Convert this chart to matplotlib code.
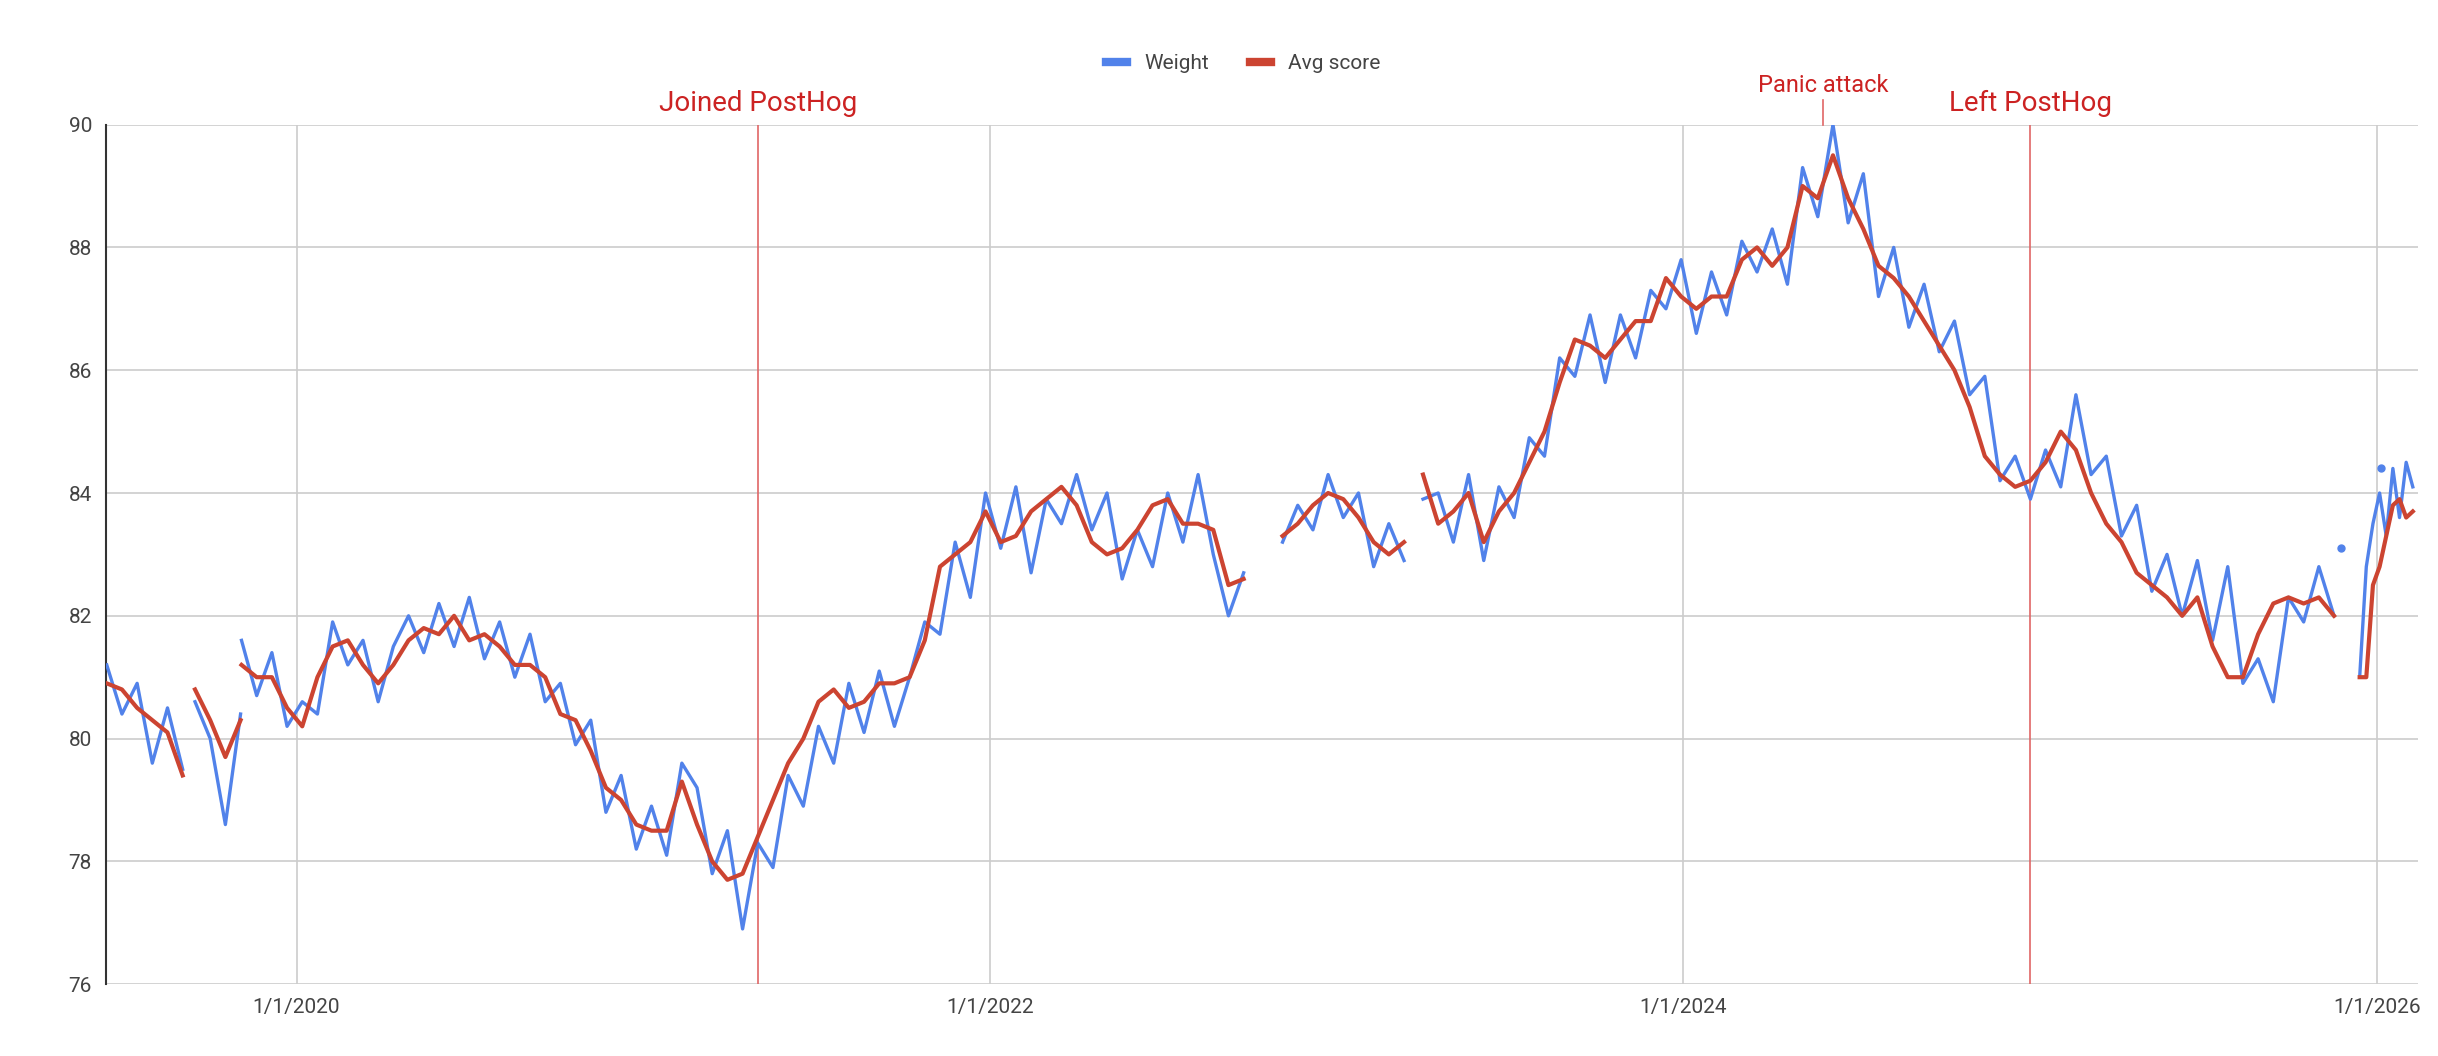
import matplotlib
matplotlib.use("Agg")
import matplotlib.pyplot as plt
import pandas as pd
from matplotlib.lines import Line2D

plt.rcParams['font.family'] = ['Roboto', 'DejaVu Sans']

# segments: (start date, frequency, weight values, avg values)
seg_starts = ["2019-06-15", "2019-09-16", "2019-11-04", "2022-11-05", "2023-04-02", "2025-12-14"]
seg_freqs = ["16D", "16D", "16D", "16D", "16D", "7D"]
weight_segs = [
    [81.2, 80.4, 80.9, 79.6, 80.5, 79.5],
    [80.6, 80.0, 78.6, 80.4],
    [81.6, 80.7, 81.4, 80.2, 80.6, 80.4, 81.9, 81.2, 81.6, 80.6, 81.5, 82.0, 81.4, 82.2, 81.5, 82.3,
     81.3, 81.9, 81.0, 81.7, 80.6, 80.9, 79.9, 80.3, 78.8, 79.4, 78.2, 78.9, 78.1, 79.6, 79.2, 77.8,
     78.5, 76.9, 78.3, 77.9, 79.4, 78.9, 80.2, 79.6, 80.9, 80.1, 81.1, 80.2, 81.0, 81.9, 81.7, 83.2,
     82.3, 84.0, 83.1, 84.1, 82.7, 83.9, 83.5, 84.3, 83.4, 84.0, 82.6, 83.4, 82.8, 84.0, 83.2, 84.3,
     83.0, 82.0, 82.7],
    [83.2, 83.8, 83.4, 84.3, 83.6, 84.0, 82.8, 83.5, 82.9],
    [83.9, 84.0, 83.2, 84.3, 82.9, 84.1, 83.6, 84.9, 84.6, 86.2, 85.9, 86.9, 85.8, 86.9, 86.2, 87.3,
     87.0, 87.8, 86.6, 87.6, 86.9, 88.1, 87.6, 88.3, 87.4, 89.3, 88.5, 90.0, 88.4, 89.2, 87.2, 88.0,
     86.7, 87.4, 86.3, 86.8, 85.6, 85.9, 84.2, 84.6, 83.9, 84.7, 84.1, 85.6, 84.3, 84.6, 83.3, 83.8,
     82.4, 83.0, 82.0, 82.9, 81.6, 82.8, 80.9, 81.3, 80.6, 82.3, 81.9, 82.8, 82.0],
    [81.0, 82.8, 83.5, 84.0, 83.3, 84.4, 83.6, 84.5, 84.1],
]
avg_segs = [
    [80.9, 80.8, 80.5, 80.3, 80.1, 79.4],
    [80.8, 80.3, 79.7, 80.3],
    [81.2, 81.0, 81.0, 80.5, 80.2, 81.0, 81.5, 81.6, 81.2, 80.9, 81.2, 81.6, 81.8, 81.7, 82.0, 81.6,
     81.7, 81.5, 81.2, 81.2, 81.0, 80.4, 80.3, 79.8, 79.2, 79.0, 78.6, 78.5, 78.5, 79.3, 78.6, 78.0,
     77.7, 77.8, 78.4, 79.0, 79.6, 80.0, 80.6, 80.8, 80.5, 80.6, 80.9, 80.9, 81.0, 81.6, 82.8, 83.0,
     83.2, 83.7, 83.2, 83.3, 83.7, 83.9, 84.1, 83.8, 83.2, 83.0, 83.1, 83.4, 83.8, 83.9, 83.5, 83.5,
     83.4, 82.5, 82.6],
    [83.3, 83.5, 83.8, 84.0, 83.9, 83.6, 83.2, 83.0, 83.2],
    [84.3, 83.5, 83.7, 84.0, 83.2, 83.7, 84.0, 84.5, 85.0, 85.8, 86.5, 86.4, 86.2, 86.5, 86.8, 86.8,
     87.5, 87.2, 87.0, 87.2, 87.2, 87.8, 88.0, 87.7, 88.0, 89.0, 88.8, 89.5, 88.8, 88.3, 87.7, 87.5,
     87.2, 86.8, 86.4, 86.0, 85.4, 84.6, 84.3, 84.1, 84.2, 84.5, 85.0, 84.7, 84.0, 83.5, 83.2, 82.7,
     82.5, 82.3, 82.0, 82.3, 81.5, 81.0, 81.0, 81.7, 82.2, 82.3, 82.2, 82.3, 82.0],
    [81.0, 81.0, 82.5, 82.8, 83.3, 83.8, 83.9, 83.6, 83.7],
]
dot_dates = ["2025-11-24", "2026-01-05"]
dot_values = [83.1, 84.4]
events = [("2021-05-01", "Joined PostHog"), ("2025-01-01", "Left PostHog")]
panic = ("2024-05-28", "Panic attack")
tick_dates = ["2020-01-01", "2022-01-01", "2024-01-01", "2026-01-01"]
tick_labels = ["1/1/2020", "1/1/2022", "1/1/2024", "1/1/2026"]

BLUE = "#5182EA"
RED = "#CC4431"

fig = plt.figure(figsize=(24.38, 10.56), dpi=100)
ax = fig.add_axes([0.0434, 0.068, 0.9486, 0.814])

for s, f, w, a in zip(seg_starts, seg_freqs, weight_segs, avg_segs):
    dw = pd.date_range(s, periods=len(w), freq=f)
    da = pd.date_range(s, periods=len(a), freq=f)
    ax.plot(dw, w, color=BLUE, lw=2.4, zorder=3)
    ax.plot(da, a, color=RED, lw=3.0, zorder=4)
ax.plot(pd.to_datetime(dot_dates), dot_values, "o", color=BLUE, ms=5, zorder=3)

ax.set_ylim(76, 90)
ax.set_yticks(range(76, 91, 2))
ax.set_xlim(pd.Timestamp("2019-06-14"), pd.Timestamp("2026-02-14"))
ax.set_xticks(pd.to_datetime(tick_dates))
ax.set_xticklabels(tick_labels)
ax.grid(True, color="#cccccc", lw=1.2)
ax.set_axisbelow(True)
for sp in ["top", "right", "bottom"]:
    ax.spines[sp].set_visible(False)
ax.spines["left"].set_color("#333333")
ax.spines["left"].set_linewidth(1.5)
ax.tick_params(length=0, labelsize=15, colors="#444444", pad=10)

for d, label in events:
    t = pd.Timestamp(d)
    ax.axvline(t, color="#e06666", lw=1.2, zorder=2)
    ax.text(t, 90.12, label, color="#cc2222", fontsize=20, ha="center", va="bottom")
t = pd.Timestamp(panic[0])
ax.plot([t, t], [90, 90.4], color="#e06666", lw=1.2, clip_on=False)
ax.text(t, 90.45, panic[1], color="#cc2222", fontsize=17, ha="center", va="bottom")

handles = [Line2D([], [], color=BLUE, lw=6), Line2D([], [], color=RED, lw=6)]
fig.legend(handles, ["Weight", "Avg score"], loc="center", bbox_to_anchor=(0.51, 0.94),
           ncol=2, frameon=False, fontsize=15, handlelength=1.0, columnspacing=2.0,
           labelcolor="#444444")
fig.savefig("out.png", dpi=100)
